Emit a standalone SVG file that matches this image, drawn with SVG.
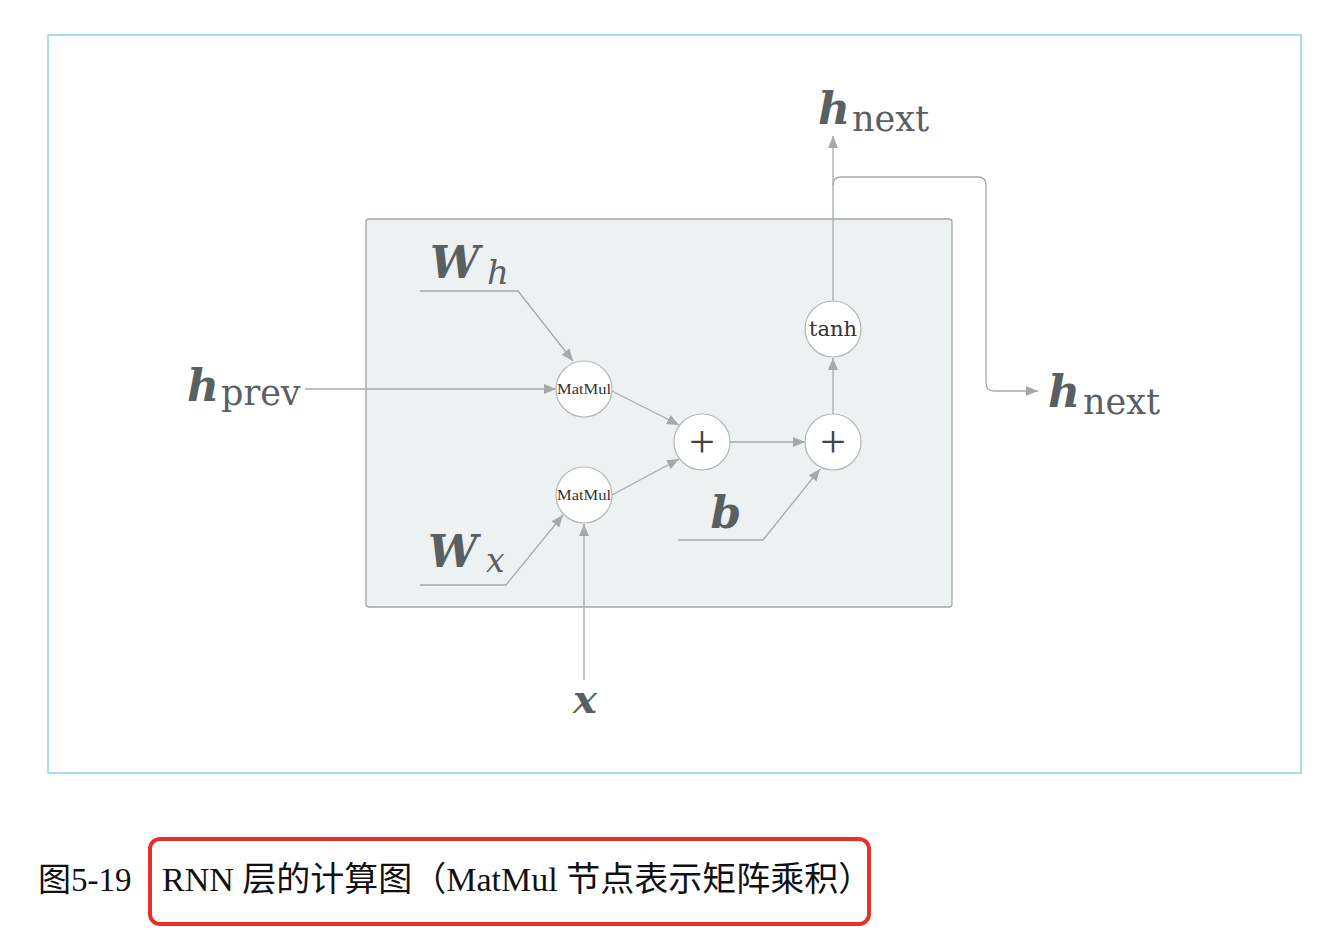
<svg xmlns="http://www.w3.org/2000/svg" width="1330" height="950" viewBox="0 0 1330 950">
<style>
.frame{fill:none;stroke:#92d5ec;stroke-width:1.6}
.box{fill:#edf1f2;stroke:#a3a7a9;stroke-width:1.3}
.node{fill:#ffffff;stroke:#b3b7b9;stroke-width:1.2}
.conn{fill:none;stroke:#a5a9ab;stroke-width:1.3}
.bi{font-family:"DejaVu Serif","Liberation Serif",serif;font-weight:bold;font-style:italic;fill:#5a5f62}
.it{font-family:"DejaVu Serif","Liberation Serif",serif;font-style:italic;fill:#5a5f62}
.rm{font-family:"DejaVu Serif","Liberation Serif",serif;fill:#5a5f62}
.ntxt{font-family:"Liberation Serif","DejaVu Serif",serif;fill:#333;text-anchor:middle}
.plus{font-family:"Liberation Serif",serif;fill:#444;text-anchor:middle;font-size:46px}
.cap{font-family:"Liberation Serif","Noto Sans CJK SC",serif;fill:#111;font-size:33px}
</style>
<defs>
<marker id="arr" markerUnits="userSpaceOnUse" markerWidth="13" markerHeight="11" refX="12" refY="5" orient="auto">
<path d="M0,0 L12,5 L0,10 z" fill="#a5a9ab"/>
</marker>
</defs>
<rect class="frame" x="48" y="35" width="1253" height="738"/>
<g id="layer-box"><rect class="box" x="366" y="219" width="586" height="388" rx="3"/></g>
<g id="connectors">
<polyline class="conn" points="420,291 518,291 573,361" marker-end="url(#arr)"/>
<line class="conn" x1="305" y1="389" x2="556" y2="389" marker-end="url(#arr)"/>
<line class="conn" x1="612" y1="391" x2="679" y2="425" marker-end="url(#arr)"/>
<line class="conn" x1="612" y1="495" x2="679" y2="459" marker-end="url(#arr)"/>
<line class="conn" x1="730" y1="442" x2="805" y2="442" marker-end="url(#arr)"/>
<line class="conn" x1="833" y1="414" x2="833" y2="358" marker-end="url(#arr)"/>
<polyline class="conn" points="420,585 506,585 563,515" marker-end="url(#arr)"/>
<line class="conn" x1="584" y1="680" x2="584" y2="524" marker-end="url(#arr)"/>
<polyline class="conn" points="678,540 763,540 820,469" marker-end="url(#arr)"/>
<line class="conn" x1="833" y1="301" x2="833" y2="136" marker-end="url(#arr)"/>
<path class="conn" d="M833,185 Q833,177 841,177 L978,177 Q986,177 986,185 L986,383 Q986,391 994,391 L1038,391" marker-end="url(#arr)"/>
</g>
<g id="matmul1"><circle class="node" cx="584" cy="389" r="28"/><text class="ntxt" x="584" y="394" font-size="15" textLength="54" lengthAdjust="spacingAndGlyphs">MatMul</text></g>
<g id="matmul2"><circle class="node" cx="584" cy="495" r="28"/><text class="ntxt" x="584" y="500" font-size="15" textLength="54" lengthAdjust="spacingAndGlyphs">MatMul</text></g>
<g id="plus1"><circle class="node" cx="702" cy="442" r="28"/><text class="plus" x="702" y="457">+</text></g>
<g id="plus2"><circle class="node" cx="833" cy="442" r="28"/><text class="plus" x="833" y="457">+</text></g>
<g id="tanh"><circle class="node" cx="833" cy="329" r="28"/><text class="ntxt" x="833" y="336" font-size="21" style="font-family:'DejaVu Serif',serif">tanh</text></g>
<g id="label-Wh"><text x="430" y="278" class="bi" font-size="44">W</text><text x="487" y="284" class="it" font-size="34">h</text></g>
<g id="label-hprev"><text x="187" y="401" class="bi" font-size="44">h</text><text x="221" y="405" class="rm" font-size="35">prev</text></g>
<g id="label-Wx"><text x="428" y="567" class="bi" font-size="44">W</text><text x="486" y="572" class="it" font-size="33">x</text></g>
<g id="label-x"><text x="585" y="713" class="bi" font-size="40" text-anchor="middle">x</text></g>
<g id="label-b"><text x="726" y="528" class="bi" font-size="44" text-anchor="middle">b</text></g>
<g id="label-hnext-top"><text x="818" y="124" class="bi" font-size="44">h</text><text x="852" y="131" class="rm" font-size="35">next</text></g>
<g id="label-hnext-right"><text x="1048" y="407" class="bi" font-size="44">h</text><text x="1083" y="414" class="rm" font-size="35">next</text></g>
<g id="caption">
<text x="38" y="891" class="cap">图5-19</text>
<rect x="150" y="839" width="719" height="85" rx="10" fill="none" stroke="#e8302a" stroke-width="4"/>
<text x="162" y="891" class="cap" font-size="34" style="font-size:34px">RNN 层的计算图（MatMul 节点表示矩阵乘积）</text>
</g>
</svg>
